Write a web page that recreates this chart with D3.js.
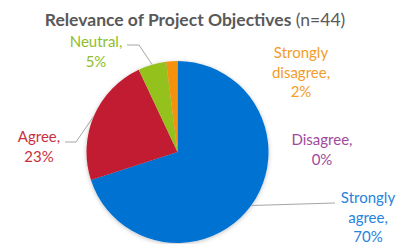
<!DOCTYPE html>
<html>
<head>
<meta charset="utf-8">
<script src="https://cdn.jsdelivr.net/npm/d3@7"></script>
<style>
  body { margin: 0; background: #fff; }
  svg { display: block; font-family: Lato, "Open Sans", sans-serif; }
</style>
</head>
<body>
<svg id="chart" width="402" height="244"></svg>
<script>
// data (n=44)
const categories = ['Strongly agree', 'Agree', 'Neutral', 'Disagree', 'Strongly disagree'];
const values = [70, 23, 5, 0, 2];
const pctLabels = ['70%', '23%', '5%', '0%', '2%'];
const sliceColors = ['#0272D2', '#C21A30', '#95C11F', '#A3459C', '#F5920F'];
const textColors = ['#2683DE', '#C9303F', '#8FBE2A', '#A04A9C', '#F39C2A'];

// where Excel put each label (layout only): anchor x, first baseline, text lines
const labelLayout = [
  { x: 368, y: 203, lines: ['Strongly', 'agree,', '70%'], leader: [[335, 203]] },
  { x: 39, y: 142, lines: ['Agree,', '23%'], leader: [[76, 142], [65, 142]] },
  { x: 96, y: 47, lines: ['Neutral,', '5%'], leader: [[139, 45], [127, 45]] },
  { x: 322, y: 145, lines: ['Disagree,', '0%'], leader: null },
  { x: 301, y: 58, lines: ['Strongly', 'disagree,', '2%'], leader: null },
];

const svg = d3.select('#chart');
const cx = 177.5, cy = 152, r = 91;

// soft shadow like the office chart
const defs = svg.append('defs');
const f = defs.append('filter').attr('id', 'shadow')
    .attr('x', '-20%').attr('y', '-20%').attr('width', '140%').attr('height', '140%');
f.append('feDropShadow')
    .attr('dx', 0).attr('dy', 1).attr('stdDeviation', 2)
    .attr('flood-color', '#000').attr('flood-opacity', 0.25);

// title
const title = svg.append('text')
    .attr('x', 195).attr('y', 26)
    .attr('text-anchor', 'middle')
    .attr('fill', '#595959')
    .style('font-size', '17.5px');
title.append('tspan').attr('font-weight', 'bold').text('Relevance of Project Objectives');
title.append('tspan').text(' (n=44)');

const pie = d3.pie().sort(null).value((d) => d)(values);
const arc = d3.arc().innerRadius(0).outerRadius(r);
const edge = d3.arc().innerRadius(r).outerRadius(r);

const g = svg.append('g').attr('transform', `translate(${cx}, ${cy})`);
g.append('g').attr('filter', 'url(#shadow)')
  .selectAll('path')
  .data(pie)
  .join('path')
    .attr('d', arc)
    .attr('fill', (d, i) => sliceColors[i]);

// leader lines from the slice edge to the label
const line = d3.line();
pie.forEach((d, i) => {
  const lay = labelLayout[i];
  if (!lay.leader || d.value === 0) return;
  const [ex, ey] = edge.centroid(d);
  const pts = [[cx + ex, cy + ey]].concat(lay.leader);
  svg.append('path')
      .attr('d', line(pts))
      .attr('fill', 'none')
      .attr('stroke', '#A6A6A6')
      .attr('stroke-width', 1);
});

// labels
categories.forEach((c, i) => {
  const lay = labelLayout[i];
  const t = svg.append('text')
      .attr('text-anchor', 'middle')
      .attr('fill', textColors[i])
      .style('font-size', '15px');
  lay.lines.forEach((s, k) => {
    t.append('tspan').attr('x', lay.x).attr('y', lay.y + k * 19.5).text(s);
  });
});
</script>
</body>
</html>
